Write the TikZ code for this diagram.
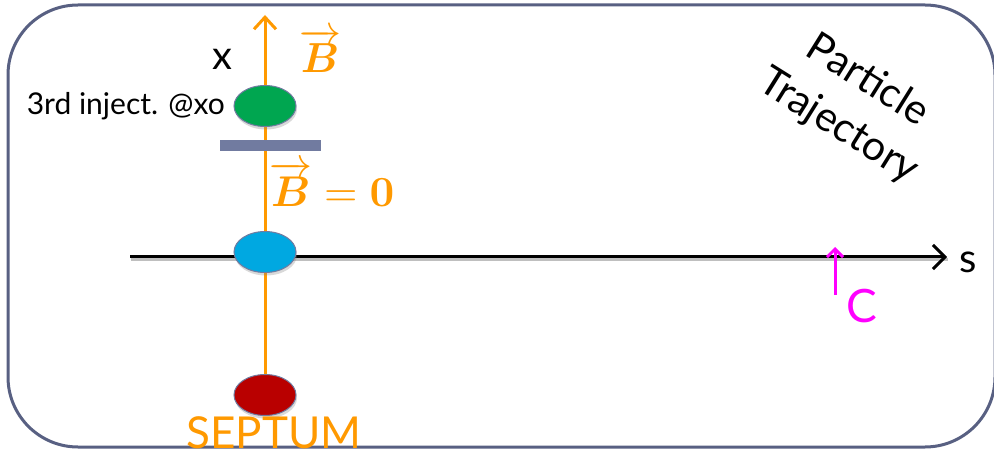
\documentclass[tikz,border=0pt]{standalone}
\usepackage{amsmath,bm}
\usepackage{fontspec}
\setmainfont{Lato}
\usetikzlibrary{arrows.meta,shapes.geometric,shadows}
\definecolor{frameblue}{RGB}{88,96,130}
\definecolor{bargray}{RGB}{113,123,160}
\definecolor{fieldorange}{RGB}{255,153,0}
\definecolor{bunchgreen}{RGB}{0,166,80}
\definecolor{bunchblue}{RGB}{0,168,225}
\definecolor{bunchred}{RGB}{185,0,0}
\definecolor{orbitpink}{RGB}{255,0,255}
\begin{document}
\begin{tikzpicture}[x=1pt, y=-1pt, every node/.style={inner sep=0pt},
  bunch/.style={ellipse, draw=bargray, line width=1pt, minimum width=62pt, minimum height=41pt,
    drop shadow={opacity=0.3, shadow xshift=1pt, shadow yshift=-3pt}},
  big/.style={font=\fontsize{40}{40}\selectfont}]
  \useasboundingbox (0,0) rectangle (994,449);
  \draw[frameblue, line width=3pt, rounded corners=70pt] (8,5) rectangle (995,447);
  % axes
  \coordinate (sfrom) at (130,257);
  \coordinate (sto) at (947,257);
  \coordinate (xtip) at (265,15);
  \draw[black!25, line width=3pt, transform canvas={xshift=1pt, yshift=-3pt}] (sfrom) -- (sto);
  \draw[line width=3pt, -{Straight Barb[length=12pt, width=24pt]}] (sfrom) -- (sto);
  \node[bunch, fill=bunchred] (red) at (265,395) {};
  \draw[fieldorange, line width=3pt, -{Straight Barb[length=12pt, width=22pt]}] (red) -- (xtip);
  \node[bunch, fill=bunchgreen] (green) at (265,106) {};
  \node[bunch, fill=bunchblue] (blue) at (265,252) {};
  \node[fill=bargray, minimum width=101pt, minimum height=11pt] (bar) at (270,146) {};
  % labels
  \node[big, anchor=base] (xlab) at (222,70) {x};
  \node[big, anchor=base] (slab) at (968,273) {s};
  \node[anchor=east, font=\fontsize{30}{32}\selectfont] (inj) at (225,106) {3rd inject. @xo};
  \node[text=fieldorange, anchor=base] (bfield) at (320,73) {\scalebox{4.2}{$\overrightarrow{\bm{B}}$}};
  \node[text=fieldorange, anchor=base west] (bzero) at (269,207) {\scalebox{4.3}{$\overrightarrow{\bm{B}}=\bm{0}$}};
  \node[text=fieldorange, anchor=base, font=\fontsize{44}{44}\selectfont] (septum) at (274,448) {SEPTUM};
  \node[rotate=-32, align=center, font=\fontsize{41}{54}\selectfont] (traj) at (853,104) {Particle\\Trajectory};
  % closed orbit point
  \coordinate (cfoot) at (835,295);
  \coordinate (ctip) at (835,247);
  \draw[orbitpink, line width=3pt, -{Straight Barb[length=8pt, width=16pt]}] (cfoot) -- (ctip);
  \node[text=orbitpink, anchor=base, font=\fontsize{46}{46}\selectfont] (clab) at (862,323) {C};
\end{tikzpicture}
\end{document}
